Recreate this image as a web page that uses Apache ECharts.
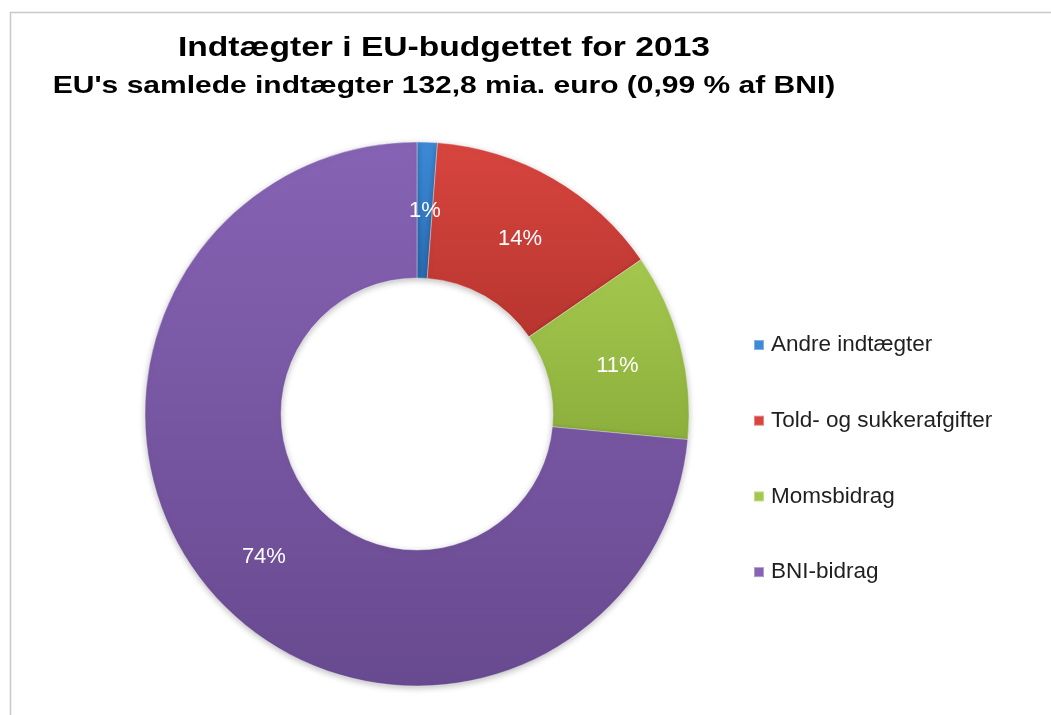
<!DOCTYPE html>
<html>
<head>
<meta charset="utf-8">
<script src="https://cdn.jsdelivr.net/npm/echarts@6/dist/echarts.min.js"></script>
<style>
html,body{margin:0;padding:0;background:#fff;}
#chart{width:1051px;height:715px;}
</style>
</head>
<body>
<div id="chart"></div>
<script>
const categories = ['Andre indtægter', 'Told- og sukkerafgifter', 'Momsbidrag', 'BNI-bidrag'];
const values = [1.2, 14.2, 11.1, 73.5];
const colorsTop = ['#3d8ad6', '#d8453f', '#a4c84e', '#8663b4'];
const colorsBottom = ['#2a6cb4', '#b8352f', '#8caf3c', '#684a90'];
const titleText = 'Indtægter i EU-budgettet for 2013';
const subtitleText = "EU's samlede indtægter 132,8 mia. euro (0,99 % af BNI)";

const chart = echarts.init(document.getElementById('chart'));
const data = categories.map((c, i) => ({
  name: c,
  value: values[i],
  itemStyle: {
    color: new echarts.graphic.LinearGradient(0, 0, 0, 1, [
      {offset: 0, color: colorsTop[i]},
      {offset: 1, color: colorsBottom[i]}
    ])
  }
}));
chart.setOption({
  backgroundColor: '#fff',
  animation: false,
  graphic: [{
    type: 'rect',
    shape: {x: 10.5, y: 12.5, width: 1060, height: 720},
    style: {fill: 'none', stroke: '#c8c8c8', lineWidth: 1.5}
  }, {
    type: 'text',
    x: 444, y: 48, scaleX: 1.2,
    style: {
      text: titleText, fill: '#000',
      font: 'bold 28px "Liberation Sans", Arial, sans-serif',
      align: 'center', verticalAlign: 'middle',
      textAlign: 'center', textVerticalAlign: 'middle'
    }
  }, {
    type: 'text',
    x: 444, y: 86, scaleX: 1.25,
    style: {
      text: subtitleText, fill: '#000',
      font: 'bold 24px "Liberation Sans", Arial, sans-serif',
      align: 'center', verticalAlign: 'middle',
      textAlign: 'center', textVerticalAlign: 'middle'
    }
  }],
  legend: {
    orient: 'vertical',
    left: 753, top: 333,
    padding: 0,
    icon: 'rect',
    itemWidth: 10, itemHeight: 10,
    itemGap: 51.7,
    data: categories.map((c, i) => ({name: c, itemStyle: {color: colorsTop[i]}})),
    textStyle: {fontFamily: 'Liberation Sans, Arial', fontSize: 22.5, color: '#1f1f1f', lineHeight: 24, padding: [0, 0, 0, 2]}
  },
  series: [{
    type: 'pie',
    center: [417, 414],
    radius: [136, 272],
    startAngle: 90,
    clockwise: true,
    percentPrecision: 0,
    avoidLabelOverlap: false,
    itemStyle: {borderColor: 'rgba(255,255,255,0.35)', borderWidth: 1, shadowBlur: 6, shadowColor: 'rgba(0,0,0,0.25)', shadowOffsetY: 2},
    label: {
      show: true, position: 'inside', formatter: '{d}%',
      fontFamily: 'Liberation Sans, Arial', fontSize: 22, color: '#fff',
      offset: [0, 4]
    },
    labelLine: {show: false},
    emphasis: {disabled: true},
    data: data
  }]
});
</script>
</body>
</html>
